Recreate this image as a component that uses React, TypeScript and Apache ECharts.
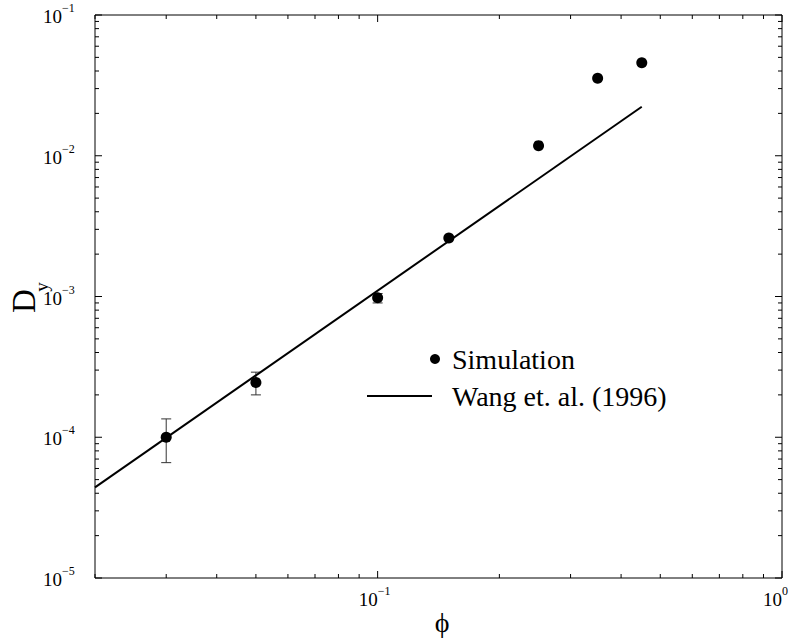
import React, { useEffect, useRef } from "react";
import * as echarts from "echarts";

// Simulation results: volume fraction phi vs. diffusion coefficient D_y
const PHI = [0.03, 0.05, 0.1, 0.15, 0.25, 0.35, 0.45];
const D_Y = [1.0e-4, 2.45e-4, 9.8e-4, 2.6e-3, 1.18e-2, 3.55e-2, 4.58e-2];

// Error bars on the low-phi points
const ERR_PHI = [0.03, 0.05, 0.1];
const ERR_LOW = [6.6e-5, 2.0e-4, 9.0e-4];
const ERR_HIGH = [1.35e-4, 2.9e-4, 1.05e-3];

// Wang et al. (1996) prediction
const WANG_PHI = [0.02, 0.45];
const WANG_DY = [4.4e-5, 2.23e-2];

// Axis ranges and ticks
const X_MIN = 0.02;
const X_MAX = 1;
const Y_MIN = 1e-5;
const Y_MAX = 1e-1;
const X_MAJOR = [0.1, 1];
const X_MAJOR_EXP = ["−1", "0"];
const X_MINOR = [0.02, 0.03, 0.04, 0.05, 0.06, 0.07, 0.08, 0.09, 0.2, 0.3, 0.4, 0.5, 0.6, 0.7, 0.8, 0.9];
const Y_MAJOR = [1e-5, 1e-4, 1e-3, 1e-2, 1e-1];
const Y_MAJOR_EXP = ["−5", "−4", "−3", "−2", "−1"];
const Y_MINOR = [
  2e-5, 3e-5, 4e-5, 5e-5, 6e-5, 7e-5, 8e-5, 9e-5,
  2e-4, 3e-4, 4e-4, 5e-4, 6e-4, 7e-4, 8e-4, 9e-4,
  2e-3, 3e-3, 4e-3, 5e-3, 6e-3, 7e-3, 8e-3, 9e-3,
  2e-2, 3e-2, 4e-2, 5e-2, 6e-2, 7e-2, 8e-2, 9e-2,
];

const SERIF = "Liberation Serif";
const MAJOR_LEN = 7;
const MINOR_LEN = 4;

function txt(text: string, x: number, y: number, size: number, align: string, valign: string, extra: any = {}) {
  return {
    type: "text",
    x,
    y,
    silent: true,
    ...extra,
    style: {
      text,
      font: `${size}px ${SERIF}`,
      fill: "#000",
      align,
      verticalAlign: valign,
    },
  };
}

function tickLine(x1: number, y1: number, x2: number, y2: number) {
  return {
    type: "line",
    shape: { x1, y1, x2, y2 },
    style: { stroke: "#000", lineWidth: 1 },
  };
}

export default function App() {
  const ref = useRef<HTMLDivElement>(null);

  useEffect(() => {
    if (!ref.current) return;
    const chart = echarts.init(ref.current, null, { renderer: "svg" });

    const xTickData = [
      ...X_MAJOR.map((v) => [v, Y_MIN, 1]),
      ...X_MINOR.map((v) => [v, Y_MIN, 0]),
    ];
    const yTickData = [
      ...Y_MAJOR.map((v) => [X_MIN, v, 1]),
      ...Y_MINOR.map((v) => [X_MIN, v, 0]),
    ];

    const legendAndTitles: any[] = [
      // legend
      { type: "circle", shape: { cx: 435, cy: 359, r: 5 }, style: { fill: "#000" } },
      txt("Simulation", 452, 359, 28, "left", "middle"),
      { type: "line", shape: { x1: 367, y1: 396, x2: 432, y2: 396 }, style: { stroke: "#000", lineWidth: 2 } },
      txt("Wang et. al. (1996)", 452, 396, 28, "left", "middle"),
      // axis titles
      txt("ϕ", 442, 622, 28, "center", "middle"),
      txt("D", 24, 301, 33, "center", "middle", { rotation: Math.PI / 2 }),
      txt("y", 41, 287, 19, "center", "middle", { rotation: Math.PI / 2 }),
    ];

    const option: any = {
      animation: false,
      backgroundColor: "#fff",
      grid: {
        left: 95,
        top: 15,
        width: 687,
        height: 563,
        show: true,
        borderColor: "#000",
        borderWidth: 1,
        backgroundColor: "transparent",
      },
      xAxis: {
        type: "log",
        logBase: 10,
        min: X_MIN,
        max: X_MAX,
        axisLine: { show: false },
        axisTick: { show: false },
        axisLabel: { show: false },
        splitLine: { show: false },
      },
      yAxis: {
        type: "log",
        logBase: 10,
        min: Y_MIN,
        max: Y_MAX,
        axisLine: { show: false },
        axisTick: { show: false },
        axisLabel: { show: false },
        splitLine: { show: false },
      },
      series: [
        {
          name: "x ticks",
          type: "custom",
          clip: false,
          silent: true,
          data: xTickData,
          renderItem: (_params: any, api: any) => {
            const v = api.value(0);
            const len = api.value(2) === 1 ? MAJOR_LEN : MINOR_LEN;
            const bot = api.coord([v, Y_MIN]);
            const top = api.coord([v, Y_MAX]);
            return {
              type: "group",
              children: [
                tickLine(bot[0], bot[1], bot[0], bot[1] - len),
                tickLine(top[0], top[1], top[0], top[1] + len),
              ],
            };
          },
        },
        {
          name: "y ticks",
          type: "custom",
          clip: false,
          silent: true,
          data: yTickData,
          renderItem: (_params: any, api: any) => {
            const v = api.value(1);
            const len = api.value(2) === 1 ? MAJOR_LEN : MINOR_LEN;
            const left = api.coord([X_MIN, v]);
            const right = api.coord([X_MAX, v]);
            return {
              type: "group",
              children: [
                tickLine(left[0], left[1], left[0] + len, left[1]),
                tickLine(right[0], right[1], right[0] - len, right[1]),
              ],
            };
          },
        },
        {
          name: "Wang et. al. (1996)",
          type: "line",
          data: WANG_PHI.map((p, i) => [p, WANG_DY[i]]),
          showSymbol: false,
          symbol: "none",
          lineStyle: { color: "#000", width: 2 },
          silent: true,
        },
        {
          name: "error bars",
          type: "custom",
          silent: true,
          data: ERR_PHI.map((p, i) => [p, ERR_LOW[i], ERR_HIGH[i]]),
          encode: { x: 0, y: [1, 2] },
          renderItem: (_params: any, api: any) => {
            const p = api.value(0);
            const lo = api.coord([p, api.value(1)]);
            const hi = api.coord([p, api.value(2)]);
            const half = 5;
            const st = { stroke: "#333", lineWidth: 1 };
            return {
              type: "group",
              children: [
                { type: "line", shape: { x1: lo[0], y1: lo[1], x2: hi[0], y2: hi[1] }, style: st },
                { type: "line", shape: { x1: lo[0] - half, y1: lo[1], x2: lo[0] + half, y2: lo[1] }, style: st },
                { type: "line", shape: { x1: hi[0] - half, y1: hi[1], x2: hi[0] + half, y2: hi[1] }, style: st },
              ],
            };
          },
        },
        {
          name: "Simulation",
          type: "scatter",
          data: PHI.map((p, i) => [p, D_Y[i]]),
          symbol: "circle",
          symbolSize: 11,
          itemStyle: { color: "#000", opacity: 1 },
          silent: true,
        },
      ],
      graphic: legendAndTitles,
    };

    chart.setOption(option);

    // Power-of-ten tick labels, placed at the axis scale's own pixel positions
    const labels: any[] = [];
    X_MAJOR.forEach((v, i) => {
      const [px, py] = chart.convertToPixel({ gridIndex: 0 }, [v, Y_MIN]) as number[];
      labels.push(txt("10", px, py + 21, 19, "right", "middle"));
      labels.push(txt(X_MAJOR_EXP[i], px, py + 13, 12, "left", "middle"));
    });
    Y_MAJOR.forEach((v, i) => {
      const [px, py] = chart.convertToPixel({ gridIndex: 0 }, [X_MIN, v]) as number[];
      labels.push(txt("10", px - 33, py + 1.5, 19, "right", "middle"));
      labels.push(txt(Y_MAJOR_EXP[i], px - 33, py - 7, 12, "left", "middle"));
    });
    chart.setOption({ graphic: [...legendAndTitles, ...labels] });

    return () => chart.dispose();
  }, []);

  return (
    <div
      ref={ref}
      style={{ position: "fixed", left: 0, top: 0, width: 794, height: 639, background: "#fff" }}
    />
  );
}
